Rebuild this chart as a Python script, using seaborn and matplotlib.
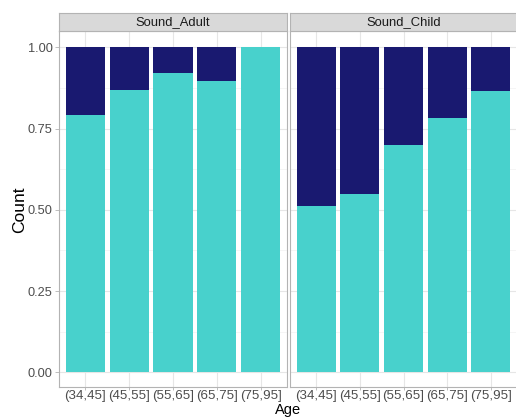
import matplotlib
matplotlib.use("Agg")
import matplotlib.pyplot as plt
import seaborn as sns
import pandas as pd
import numpy as np

# Age groups and share of the lower (turquoise) group per facet
age_groups = ["(34,45]", "(45,55]", "(55,65]", "(65,75]", "(75,95]"]
adult_share = [0.791, 0.868, 0.920, 0.895, 1.00]
child_share = [0.511, 0.550, 0.700, 0.782, 0.865]
facets = ["Sound_Adult", "Sound_Child"]
y_ticks = [0.0, 0.25, 0.5, 0.75, 1.0]
y_tick_labels = ["0.00", "0.25", "0.50", "0.75", "1.00"]

c_low = "#48D1CC"
c_high = "#191970"

sns.set_theme(style="white")
plt.rcParams["font.family"] = ["Liberation Sans", "DejaVu Sans"]

W, H = 516, 417
fig = plt.figure(figsize=(W / 100, H / 100), dpi=100)

panel_top, panel_bottom = 31, 387
strip_h = 18
panels = [(59, 287), (290, 517)]
shares = [adult_share, child_share]

for i, ((x0, x1), share, name) in enumerate(zip(panels, shares, facets)):
    ax = fig.add_axes([x0 / W, (H - panel_bottom) / H, (x1 - x0) / W,
                       (panel_bottom - panel_top) / H])
    df = pd.DataFrame({"Age": age_groups, "share": share,
                       "total": [1.0] * len(age_groups)})
    sns.barplot(data=df, x="Age", y="total", color=c_high, width=0.89,
                saturation=1, linewidth=0, ax=ax, zorder=3)
    sns.barplot(data=df, x="Age", y="share", color=c_low, width=0.89,
                saturation=1, linewidth=0, ax=ax, zorder=4)
    ax.set_xlim(-0.6, len(age_groups) - 0.4)
    ax.set_ylim(-0.045, 1.05)
    ax.set_yticks(y_ticks)
    ax.set_yticks(np.arange(0.125, 1.0, 0.25), minor=True)
    ax.set_xticks(range(len(age_groups)))
    ax.set_xticklabels(age_groups, fontsize=9.6, color="#4D4D4D")
    ax.set_xlabel("")
    ax.set_ylabel("")
    ax.grid(True, which="major", color="#E6E6E6", linewidth=0.8, zorder=0)
    ax.grid(True, which="minor", axis="y", color="#F2F2F2", linewidth=0.5, zorder=0)
    ax.set_axisbelow(True)
    for s in ax.spines.values():
        s.set_color("#B3B3B3")
        s.set_linewidth(0.8)
    ax.tick_params(axis="both", which="major", length=3, width=0.6,
                   color="#B3B3B3", pad=1.5, bottom=True, left=(i == 0))
    ax.tick_params(axis="x", which="major", length=2, pad=0.3)
    ax.tick_params(axis="both", which="minor", length=0)
    if i == 0:
        ax.set_yticklabels(y_tick_labels, fontsize=9.2, color="#4D4D4D")
    else:
        ax.set_yticklabels([])
        ax.tick_params(axis="y", left=False)

    # Facet strip
    sax = fig.add_axes([x0 / W, (H - panel_top) / H, (x1 - x0) / W, strip_h / H])
    sax.set_facecolor("#D9D9D9")
    sax.set_xticks([])
    sax.set_yticks([])
    for s in sax.spines.values():
        s.set_color("#B3B3B3")
        s.set_linewidth(0.8)
    sax.text(0.5, 0.5, name, ha="center", va="center", fontsize=9.4,
             color="#1A1A1A", transform=sax.transAxes)

fig.text(20 / W, (H - 210) / H, "Count", rotation=90,
         ha="center", va="center", fontsize=12.5, color="black")
fig.text(288 / W, 0.3 / H, "Age", ha="center", va="bottom",
         fontsize=10.5, color="black")

fig.savefig("out.png", dpi=100)
